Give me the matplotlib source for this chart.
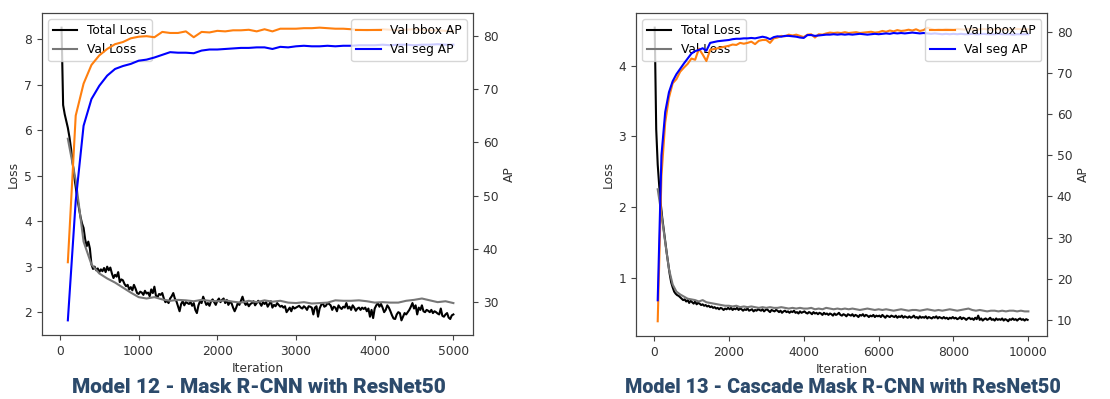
import matplotlib
matplotlib.use("Agg")
import matplotlib.pyplot as plt
import numpy as np

# ---------------- Model 12 (left) ----------------
m12_train_iter = list(range(20, 5001, 20))
m12_total_loss = [
    8.25, 6.55, 6.35, 6.2, 6.05, 5.85, 5.6, 5.3, 5.0, 4.75,
    4.5, 4.3, 4.1, 3.95, 3.85, 3.6, 3.45, 3.55, 3.4, 3.05,
    2.95, 3.0, 2.92, 2.96, 2.88, 2.94, 2.9, 2.97, 2.88, 3.0,
    2.92, 2.98, 2.85, 2.75, 2.82, 2.78, 2.88, 2.66, 2.72, 2.7,
    2.62, 2.57, 2.6, 2.5, 2.55, 2.48, 2.6, 2.52, 2.42, 2.4,
    2.45, 2.43, 2.38, 2.47, 2.41, 2.43, 2.35, 2.5, 2.42, 2.56,
    2.36, 2.33, 2.4, 2.38, 2.42, 2.3, 2.22, 2.25, 2.2, 2.3,
    2.35, 2.42, 2.3, 2.24, 2.13, 2.02, 2.18, 2.24, 2.15, 2.22,
    2.2, 2.18, 2.22, 2.14, 2.2, 2.05, 1.98, 2.15, 2.24, 2.2,
    2.34, 2.25, 2.16, 2.2, 2.14, 2.24, 2.28, 2.22, 2.16, 2.25,
    2.3, 2.22, 2.27, 2.3, 2.2, 2.27, 2.16, 2.22, 2.2, 2.1,
    2.02, 2.1, 2.2, 2.16, 2.25, 2.34, 2.22, 2.16, 2.2, 2.13,
    2.18, 2.2, 2.24, 2.15, 2.2, 2.25, 2.2, 2.14, 2.22, 2.18,
    2.22, 2.12, 2.18, 2.24, 2.1, 2.16, 2.13, 2.2, 2.16, 2.12,
    2.14, 2.1, 2.13, 2.0, 2.05, 2.1, 2.02, 2.12, 2.08, 2.1,
    2.12, 2.14, 2.1, 2.08, 2.13, 2.1, 2.05, 2.13, 2.12, 2.1,
    1.95, 2.1, 2.13, 1.9, 2.08, 2.16, 2.2, 2.12, 2.14, 2.2,
    2.18, 2.15, 2.05, 2.12, 2.1, 2.02, 2.15, 2.1, 2.07, 2.12,
    2.1, 2.2, 2.08, 2.12, 2.05, 2.15, 2.1, 2.03, 2.08, 2.1,
    2.05, 2.1, 2.07, 2.1, 2.02, 2.08, 1.9, 2.05, 1.87, 2.08,
    2.15, 2.2, 2.12, 2.18, 2.1, 2.0, 2.05, 2.15, 2.1, 2.02,
    1.93, 1.86, 1.85, 1.95, 2.0, 1.98, 1.82, 1.9, 1.98, 1.95,
    2.0, 2.05, 2.12, 2.2, 2.08, 2.15, 1.95, 2.1, 2.05, 2.15,
    2.02, 2.0, 2.05, 2.03, 2.0, 2.05, 1.98, 2.02, 2.0, 1.97,
    1.95, 2.08, 1.92, 1.9, 1.95, 1.98, 1.88, 1.85, 1.93, 1.95,
]
m12_val_iter = list(range(100, 5001, 100))
m12_val_loss = [
    5.81, 4.90, 3.55, 3.05, 2.85, 2.74, 2.65, 2.54, 2.43, 2.33,
    2.30, 2.33, 2.28, 2.25, 2.27, 2.26, 2.24, 2.27, 2.25, 2.24,
    2.26, 2.23, 2.21, 2.25, 2.22, 2.26, 2.23, 2.25, 2.21, 2.20,
    2.22, 2.19, 2.20, 2.21, 2.26, 2.25, 2.25, 2.26, 2.24, 2.21,
    2.22, 2.21, 2.21, 2.25, 2.27, 2.30, 2.26, 2.22, 2.24, 2.20,
]
m12_bbox_ap = [
    37.5, 65.0, 71.0, 74.5, 76.3, 77.5, 78.4, 78.8, 79.5, 79.8,
    79.9, 79.7, 80.7, 80.5, 80.5, 80.8, 79.7, 80.7, 80.6, 80.9,
    80.8, 81.0, 81.0, 81.1, 80.8, 81.2, 80.8, 81.3, 81.3, 81.3,
    81.4, 81.4, 81.5, 81.4, 81.3, 81.3, 81.2, 81.1, 81.0, 81.1,
    81.2, 81.1, 81.0, 81.1, 81.2, 81.1, 81.0, 81.0, 80.9, 80.8,
]
m12_seg_ap = [
    26.6, 49.0, 63.1, 68.1, 70.6, 72.5, 73.75, 74.3, 74.7, 75.3,
    75.5, 75.9, 76.4, 76.9, 76.8, 76.8, 76.7, 77.2, 77.4, 77.4,
    77.5, 77.6, 77.7, 77.7, 77.8, 77.8, 77.5, 77.9, 77.8, 78.0,
    78.1, 78.0, 78.0, 78.1, 78.0, 78.1, 78.1, 78.2, 78.2, 78.2,
    78.3, 78.2, 78.3, 78.3, 78.2, 78.3, 78.3, 78.4, 78.3, 78.3,
]

# ---------------- Model 13 (right) ----------------
m13_train_iter = list(range(20, 10000, 40))
m13_total_loss = [
    4.54, 3.1, 2.6, 2.3, 2.05, 1.85, 1.68, 1.52, 1.35, 1.2,
    1.05, 0.93, 0.86, 0.8, 0.77, 0.75, 0.74, 0.72, 0.7, 0.68,
    0.69, 0.66, 0.68, 0.64, 0.67, 0.65, 0.63, 0.66, 0.62, 0.64,
    0.63, 0.61, 0.62, 0.6, 0.61, 0.59, 0.6, 0.58, 0.59, 0.57,
    0.58, 0.56, 0.57, 0.55, 0.57, 0.56, 0.54, 0.56, 0.55, 0.57,
    0.55, 0.57, 0.54, 0.56, 0.55, 0.57, 0.54, 0.56, 0.55, 0.53,
    0.55, 0.54, 0.56, 0.53, 0.54, 0.55, 0.52, 0.54, 0.53, 0.55,
    0.54, 0.53, 0.55, 0.52, 0.54, 0.55, 0.53, 0.51, 0.54, 0.53,
    0.52, 0.54, 0.53, 0.51, 0.53, 0.5, 0.52, 0.53, 0.51, 0.52,
    0.5, 0.52, 0.51, 0.53, 0.5, 0.51, 0.49, 0.52, 0.5, 0.51,
    0.52, 0.5, 0.49, 0.51, 0.5, 0.48, 0.51, 0.49, 0.5, 0.48,
    0.5, 0.49, 0.47, 0.5, 0.48, 0.49, 0.47, 0.49, 0.48, 0.46,
    0.49, 0.47, 0.48, 0.5, 0.47, 0.46, 0.48, 0.47, 0.45, 0.48,
    0.47, 0.46, 0.48, 0.45, 0.47, 0.46, 0.44, 0.47, 0.46, 0.48,
    0.45, 0.47, 0.46, 0.44, 0.46, 0.45, 0.47, 0.44, 0.46, 0.45,
    0.46, 0.44, 0.47, 0.45, 0.43, 0.46, 0.45, 0.44, 0.46, 0.45,
    0.44, 0.46, 0.43, 0.45, 0.44, 0.46, 0.43, 0.45, 0.44, 0.43,
    0.45, 0.43, 0.44, 0.46, 0.43, 0.44, 0.42, 0.45, 0.43, 0.44,
    0.43, 0.45, 0.42, 0.44, 0.43, 0.42, 0.44, 0.43, 0.45, 0.42,
    0.44, 0.43, 0.42, 0.44, 0.42, 0.43, 0.41, 0.43, 0.42, 0.44,
    0.42, 0.43, 0.41, 0.42, 0.44, 0.41, 0.43, 0.42, 0.4, 0.42,
    0.43, 0.41, 0.42, 0.4, 0.43, 0.41, 0.46, 0.4, 0.42, 0.39,
    0.41, 0.42, 0.4, 0.41, 0.43, 0.4, 0.41, 0.39, 0.42, 0.4,
    0.41, 0.4, 0.42, 0.39, 0.41, 0.4, 0.38, 0.41, 0.4, 0.42,
    0.4, 0.41, 0.39, 0.41, 0.42, 0.4, 0.41, 0.39, 0.41, 0.4,
]
m13_val_iter = list(range(100, 10001, 100))
m13_val_loss = [
    2.25, 1.9, 1.5, 1.12, 0.9, 0.8, 0.76, 0.73, 0.7, 0.69,
    0.68, 0.66, 0.68, 0.65, 0.64, 0.63, 0.62, 0.61, 0.6, 0.6,
    0.59, 0.6, 0.58, 0.59, 0.58, 0.59, 0.58, 0.57, 0.58, 0.57,
    0.58, 0.57, 0.57, 0.58, 0.57, 0.56, 0.57, 0.56, 0.57, 0.56,
    0.56, 0.57, 0.55, 0.56, 0.55, 0.57, 0.56, 0.55, 0.56, 0.55,
    0.56, 0.55, 0.56, 0.55, 0.54, 0.55, 0.56, 0.55, 0.54, 0.55,
    0.54, 0.55, 0.54, 0.53, 0.54, 0.55, 0.54, 0.53, 0.54, 0.54,
    0.53, 0.54, 0.55, 0.54, 0.53, 0.54, 0.53, 0.54, 0.55, 0.54,
    0.53, 0.54, 0.55, 0.56, 0.54, 0.53, 0.54, 0.53, 0.52, 0.53,
    0.53, 0.52, 0.53, 0.52, 0.53, 0.53, 0.52, 0.53, 0.52, 0.52,
]
m13_bbox_ap = [
    9.7, 45.0, 58.0, 64.0, 67.5, 68.5, 70.3, 71.3, 72.2, 73.5,
    73.2, 75.9, 74.5, 72.9, 75.6, 75.8, 76.0, 76.2, 76.4, 76.6,
    76.9, 76.8, 77.3, 77.1, 77.3, 77.6, 77.0, 77.8, 78.0, 78.0,
    77.3, 78.4, 78.6, 79.0, 78.9, 79.3, 79.1, 79.3, 79.0, 78.7,
    79.3, 79.4, 78.6, 79.4, 79.3, 79.6, 79.8, 79.7, 79.8, 79.7,
    79.9, 79.7, 79.8, 79.9, 79.7, 79.8, 79.9, 80.0, 79.8, 79.9,
    80.2, 80.0, 80.3, 80.1, 80.4, 80.2, 80.3, 80.5, 80.3, 80.6,
    80.2, 80.4, 81.0, 80.7, 80.4, 80.6, 80.5, 80.7, 80.6, 80.5,
    80.7, 80.6, 80.5, 80.7, 80.6, 80.5, 80.6, 80.7, 80.6, 80.5,
    80.6, 80.7, 80.6, 80.5, 80.6, 80.6, 80.7, 80.6, 80.6, 80.6,
]
m13_seg_ap = [
    14.8, 50.0, 60.5, 65.3, 68.0, 69.7, 71.0, 72.3, 73.5, 74.7,
    75.3, 75.6, 76.0, 75.4, 77.3, 77.5, 77.7, 77.8, 77.9, 78.0,
    78.2, 78.3, 78.3, 78.4, 78.4, 78.5, 78.4, 78.6, 78.8, 78.6,
    78.2, 78.7, 78.9, 78.8, 79.0, 79.0, 78.9, 78.8, 78.6, 78.5,
    79.2, 79.2, 79.0, 79.1, 79.2, 79.3, 79.3, 79.4, 79.3, 79.4,
    79.3, 79.4, 79.3, 79.4, 79.5, 79.4, 79.3, 79.4, 79.5, 79.4,
    79.5, 79.6, 79.5, 79.7, 79.6, 79.7, 79.6, 79.7, 79.8, 79.7,
    79.6, 79.7, 79.6, 79.5, 79.6, 79.5, 79.4, 79.5, 79.4, 79.5,
    79.4, 79.5, 79.4, 79.4, 79.5, 79.4, 79.4, 79.5, 79.4, 79.4,
    79.4, 79.5, 79.4, 79.4, 79.4, 79.3, 79.4, 79.4, 79.4, 79.4,
]

titles = ["Model 12 - Mask R-CNN with ResNet50",
          "Model 13 - Cascade Mask R-CNN with ResNet50"]

FS = 8.8
fig = plt.figure(figsize=(11.10, 3.99), dpi=100)
fig.patch.set_facecolor("white")

axes_rects = [[0.0378, 0.1604, 0.3883, 0.807],
              [0.5730, 0.1580, 0.3703, 0.8095]]
title_x = [0.233, 0.7595]
title_fs = [15, 14.2]

datasets = [
    (m12_train_iter, m12_total_loss, m12_val_iter, m12_val_loss, m12_bbox_ap, m12_seg_ap),
    (m13_train_iter, m13_total_loss, m13_val_iter, m13_val_loss, m13_bbox_ap, m13_seg_ap),
]

for rect, tx, tfs, title, (ti, tl, vi, vl, bb, sg) in zip(axes_rects, title_x, title_fs, titles, datasets):
    ax = fig.add_axes(rect)
    ax.plot(ti, tl, color="black", lw=1.5, label="Total Loss")
    ax.plot(vi, vl, color="#777777", lw=1.5, label="Val Loss")
    ax.set_xlabel("Iteration", fontsize=FS, color="#333333", labelpad=3)
    ax.set_ylabel("Loss", fontsize=FS, color="#333333", labelpad=3)
    ax.tick_params(labelsize=FS, labelcolor="#333333", color="#444444")
    ax.legend(loc="upper left", fontsize=FS)
    ax2 = ax.twinx()
    ax2.plot(vi, bb, color="#ff7f0e", lw=1.5, label="Val bbox AP")
    ax2.plot(vi, sg, color="blue", lw=1.5, label="Val seg AP")
    ax2.set_ylabel("AP", fontsize=FS, color="#333333", labelpad=3)
    ax2.tick_params(labelsize=FS, labelcolor="#333333", color="#444444")
    ax2.legend(loc="upper right", fontsize=FS)
    for a in (ax, ax2):
        for s in a.spines.values():
            s.set_color("#444444")
    fig.text(tx, 0.03, title, ha="center", va="center", fontsize=tfs,
             fontweight="heavy", family="Roboto", color="#2c4a6b")

fig.savefig("out.png", dpi=100, facecolor="white")
